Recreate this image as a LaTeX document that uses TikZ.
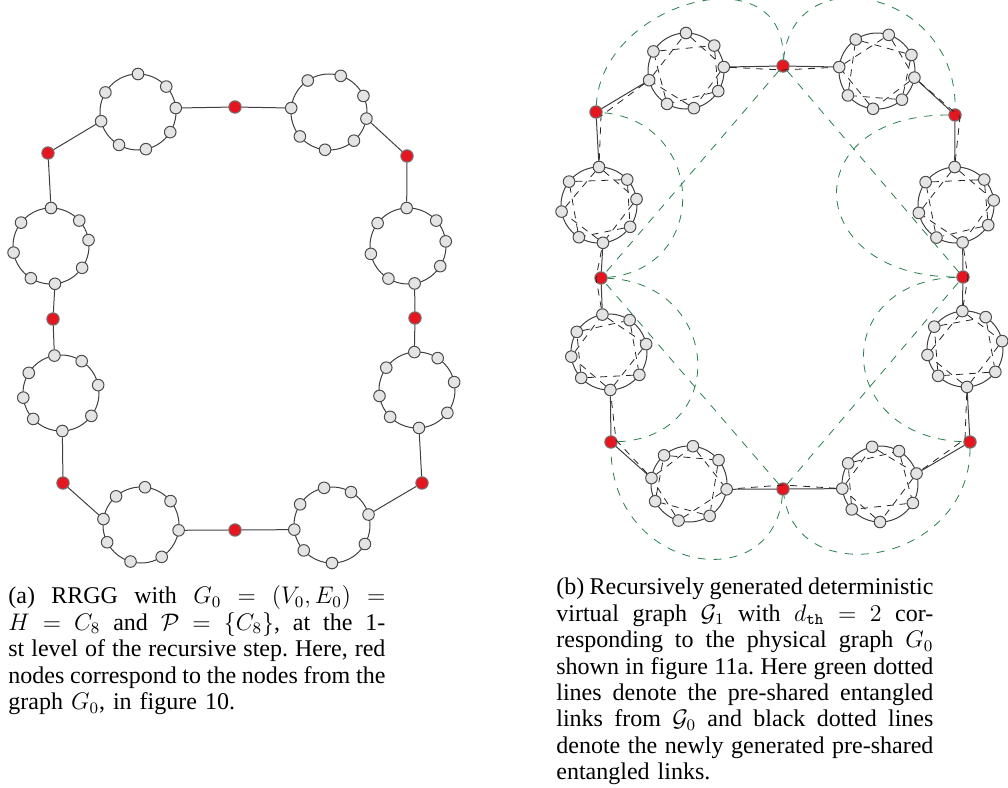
\documentclass[tikz,border=0pt]{standalone}
\usepackage{fontspec}
\setmainfont{Liberation Serif}
\usepackage{amsmath}
\usetikzlibrary{calc}

\definecolor{nodegray}{RGB}{228,228,228}
\definecolor{nodered}{RGB}{230,22,32}
\definecolor{linkgreen}{RGB}{38,128,78}

\newcommand{\capfont}{\fontsize{12}{13.2}\selectfont\frenchspacing}

\tikzset{
  gnode/.style={circle, draw=black!70, fill=nodegray, line width=0.5pt, inner sep=0pt, minimum size=5.8pt},
  rnode/.style={circle, draw=black!55, fill=nodered, line width=0.5pt, inner sep=0pt, minimum size=6.2pt},
  ring/.style={draw=black!75, line width=0.5pt},
  link/.style={draw=black!75, line width=0.5pt},
  vlink/.style={draw=black!85, line width=0.4pt, dash pattern=on 3.5pt off 3pt},
  glink/.style={draw=linkgreen, line width=0.4pt, dash pattern=on 4pt off 4pt},
  caption/.style={anchor=north west, inner sep=0pt, text width=188.5pt, align=left, font=\capfont}
}

\newcommand{\capline}[1]{\makebox[\linewidth][s]{\spaceskip=0.25em plus 0.3em minus 0.1em\relax
  \thickmuskip=5mu plus 5mu\relax #1}}

%grafo RRGG: anelli C8 e nodi rossi di G0
\newcommand{\rrgg}[1]{%
  %anelli
  \foreach \k/\cx/\cy/\angs in {1/138/112/{90,42,6,-32,-78,-120,-166,149},
      2/329/112/{124,72,25,-10,-49,-96,-140,174},
      3/408/246/{92,42,7,-32,-80,-121,-168,143},
      4/417/390/{94,57,12,-37,-87,-135,-171,144},
      5/332/525/{102,60,16,-30,-90,-138,-173,147},
      6/141/525/{84,39,-8,-57,-106,-153,171,131},
      7/61/393/{100,57,12,-37,-88,-137,-173,148},
      8/51/246/{90,42,9,-35,-84,-122,-170,142}}{%
    \draw[ring] (\cx,\cy) circle[radius=19pt];
    \foreach \a [count=\i] in \angs
      \path (\cx,\cy) ++({-(\a)}:38) node[gnode] (#1-\k-\i) {};
  }
  %nodi rossi
  \foreach \r/\x/\y in {1/48/153, 2/235/107, 3/407/156, 4/415/318,
      5/422/483, 6/235/530, 7/63/483, 8/53/319}
    \node[rnode] (#1-r\r) at (\x,\y) {};
  %collegamenti
  \foreach \r/\p/\q in {1/1-7/8-1, 2/1-3/2-8, 3/2-4/3-1, 4/3-5/4-1,
      5/4-5/5-3, 6/5-7/6-3, 7/6-7/7-5, 8/7-1/8-5}
    \draw[link] (#1-\p) -- (#1-r\r) (#1-r\r) -- (#1-\q);
}

\begin{document}
\begin{tikzpicture}[x=0.5pt, y=-0.5pt]
  \useasboundingbox (0,0) rectangle (1008,788);
  %figura (a)
  \rrgg{a}
  %figura (b)
  \begin{scope}[shift={(548,-41)}]
    \rrgg{b}
    %link virtuali dentro gli anelli
    \foreach \k in {1,...,8}
      \foreach \i in {1,...,8}{
        \pgfmathtruncatemacro\j{mod(\i+1,8)+1}
        \draw[vlink] (b-\k-\i) -- (b-\k-\j);
      }
    %link virtuali attraverso i nodi rossi
    \foreach \r/\p/\q/\ox/\oy in {1/1-7/8-1/5/4, 2/1-3/2-8/0/4, 3/2-4/3-1/5/2,
        4/3-5/4-1/5/0, 5/4-5/5-3/-5/-3, 6/5-7/6-3/0/-4, 7/6-7/7-5/5/-2, 8/7-1/8-5/-5/0}
      \draw[vlink] (b-\p) -- ([shift={(\ox,\oy)}]b-r\r.center) -- (b-\q);
    %link di G0
    \draw[glink] (b-r1) .. controls +(5,-110) and +(3,-115) .. (b-r2);
    \draw[glink] (b-r2) .. controls +(10,-110) and +(2,-125) .. (b-r3);
    \draw[glink] (b-r3) .. controls +(-161,0) and +(-161,0) .. (b-r4);
    \draw[glink] (b-r4) .. controls +(-135,5) and +(-135,-5) .. (b-r5);
    \draw[glink] (b-r5) .. controls +(0,120) and +(15,105) .. (b-r6);
    \draw[glink] (b-r6) .. controls +(-10,110) and +(0,130) .. (b-r7);
    \draw[glink] (b-r7) .. controls +(120,-5) and +(120,5) .. (b-r8);
    \draw[glink] (b-r8) .. controls +(110,-10) and +(110,10) .. (b-r1);
    \draw[glink] (b-r2) -- (b-r8);
    \draw[glink] (b-r2) -- (b-r4);
    \draw[glink] (b-r6) -- (b-r8);
    \draw[glink] (b-r6) -- (b-r4);
  \end{scope}
  %didascalie
  \node[caption] (capa) at (8,585) {\capline{\strut(a) RRGG with $G_0 = (V_0, E_0) =$}\\
    \capline{$H = C_8$ and $\mathcal{P} = \{C_8\}$, at the 1-}\\
    \capline{st level of the recursive step. Here, red}\\
    \capline{nodes correspond to the nodes from the}\\
    graph $G_0$, in figure 10.};
  \node[caption] (capb) at (556,576) {\capline{\strut(b) Recursively generated deterministic}\\
    \capline{virtual graph $\mathcal{G}_1$ with $d_{\mathtt{th}} = 2$ cor-}\\
    \capline{responding to the physical graph $G_0$}\\
    \capline{shown in figure 11a. Here green dotted}\\
    \capline{lines denote the pre-shared entangled}\\
    \capline{links from $\mathcal{G}_0$ and black dotted lines}\\
    \capline{denote the newly generated pre-shared}\\
    entangled links.};
\end{tikzpicture}
\end{document}
